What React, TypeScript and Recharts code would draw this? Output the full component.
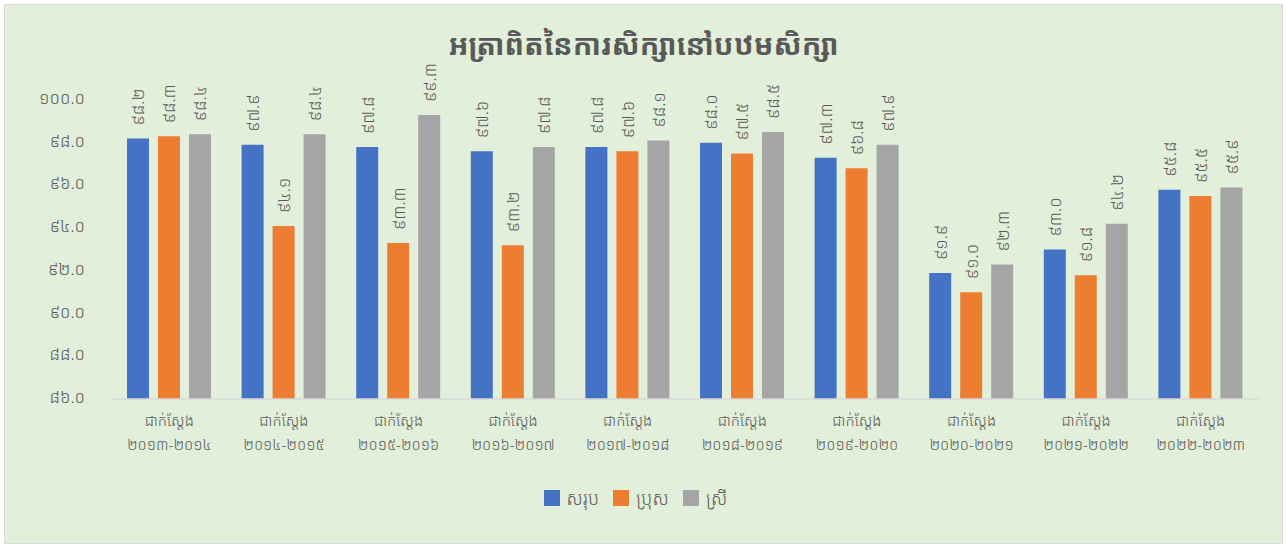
import { BarChart, Bar, XAxis, YAxis, Legend, LabelList } from "recharts";

const years = [
  "២០១៣-២០១៤",
  "២០១៤-២០១៥",
  "២០១៥-២០១៦",
  "២០១៦-២០១៧",
  "២០១៧-២០១៨",
  "២០១៨-២០១៩",
  "២០១៩-២០២០",
  "២០២០-២០២១",
  "២០២១-២០២២",
  "២០២២-២០២៣",
];
const total = [98.2, 97.9, 97.8, 97.6, 97.8, 98.0, 97.3, 91.9, 93.0, 95.8];
const male = [98.3, 94.1, 93.3, 93.2, 97.6, 97.5, 96.8, 91.0, 91.8, 95.5];
const female = [98.4, 98.4, 99.3, 97.8, 98.1, 98.5, 97.9, 92.3, 94.2, 95.9];
const yTicks = [86, 88, 90, 92, 94, 96, 98, 100];

const prefix = "ជាក់ស្តែង";
const title = "អត្រាពិតនៃការសិក្សានៅបឋមសិក្សា";
const series = [
  { key: "total", name: "សរុប", color: "#4472C4" },
  { key: "male", name: "ប្រុស", color: "#ED7D31" },
  { key: "female", name: "ស្រី", color: "#A5A5A5" },
];

const data = years.map((y, i) => ({
  year: y,
  total: total[i],
  male: male[i],
  female: female[i],
}));

const KH = "០១២៣៤៥៦៧៨៩";
const toKhmer = (s: string) => s.replace(/[0-9]/g, (d) => KH[Number(d)]);
const FONT = "'Noto Sans Khmer', 'Khmer OS Battambang', 'Khmer OS', 'Noto Serif Khmer', sans-serif";
const TEXT = "#595959";

const CategoryTick = (props: any) => {
  const { x, y, payload } = props;
  return (
    <g transform={`translate(${x},${y})`}>
      <text textAnchor="middle" fill={TEXT} fontSize={15} fontWeight={300} fontFamily={FONT}>
        <tspan x={0} dy={19}>{prefix}</tspan>
        <tspan x={0} dy={24}>{payload.value}</tspan>
      </text>
    </g>
  );
};

const ValueLabel = (props: any) => {
  const { x, y, width, value } = props;
  const cx = x + width / 2;
  const ty = y - 13;
  return (
    <text
      x={cx}
      y={ty}
      transform={`rotate(-90, ${cx}, ${ty})`}
      textAnchor="start"
      dominantBaseline="central"
      fill={TEXT}
      fontSize={17}
      fontWeight={300}
      fontFamily={FONT}
    >
      {toKhmer(Number(value).toFixed(1))}
    </text>
  );
};

const LegendContent = () => (
  <div style={{ display: "flex", justifyContent: "center", alignItems: "center", height: 30, fontFamily: FONT, paddingLeft: 8 }}>
    {series.map((s) => (
      <div key={s.key} style={{ display: "flex", alignItems: "center", margin: "0 7px" }}>
        <span style={{ width: 16, height: 16, background: s.color, display: "inline-block", marginRight: 7 }} />
        <span style={{ color: TEXT, fontSize: 18, fontWeight: 300 }}>{s.name}</span>
      </div>
    ))}
  </div>
);

export default function App() {
  return (
    <div
      style={{
        position: "absolute",
        left: 4,
        top: 4,
        width: 1277,
        height: 538,
        background: "#E2EFDA",
        border: "1px solid #D9D9D9",
      }}
    >
      <div
        style={{
          position: "absolute",
          top: 19,
          width: "100%",
          textAlign: "center",
          fontFamily: FONT,
          fontWeight: "bold",
          fontSize: 29,
          color: TEXT,
        }}
      >
        {title}
      </div>
      <BarChart
        width={1277}
        height={538}
        data={data}
        margin={{ top: 95, right: 24, left: 0, bottom: 30 }}
        barSize={22}
        barGap={9}
      >
        <XAxis
          dataKey="year"
          tick={<CategoryTick />}
          tickLine={false}
          axisLine={{ stroke: "#D9D9D9", strokeWidth: 1.5 }}
          interval={0}
          height={84}
        />
        <YAxis
          domain={[86, 100]}
          ticks={yTicks}
          width={107}
          axisLine={false}
          tickLine={false}
          tickSize={0}
          tickMargin={27}
          tick={{ fill: TEXT, fontSize: 17, fontWeight: 300, fontFamily: FONT, dy: -2 }}
          tickFormatter={(v: number) => toKhmer(v.toFixed(1))}
          allowDataOverflow
        />
        <Legend verticalAlign="bottom" height={30} content={<LegendContent />} />
        {series.map((s) => (
          <Bar key={s.key} dataKey={s.key} name={s.name} fill={s.color} isAnimationActive={false}>
            <LabelList dataKey={s.key} content={<ValueLabel />} />
          </Bar>
        ))}
      </BarChart>
    </div>
  );
}
